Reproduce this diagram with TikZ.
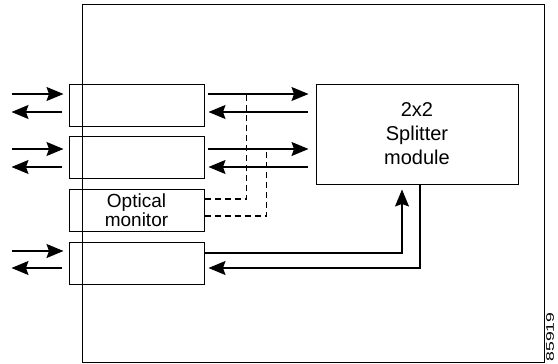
\documentclass[tikz,border=0pt]{standalone}
\usepackage{fontspec}
\setmainfont{Liberation Sans}
\usetikzlibrary{arrows.meta,calc}

\tikzset{
  unit/.style={draw, line width=1pt, minimum width=135, minimum height=42, inner sep=0pt},
  arr/.style={line width=1.2pt, -{Stealth[length=17pt,width=14pt,inset=2.5pt]}},
  tap/.style={line width=1.1pt, dash pattern=on 6pt off 4pt},
}

\begin{document}
\begin{tikzpicture}[x=1pt,y=1pt,yscale=-1,xscale=1]
\path[use as bounding box] (0,0) rectangle (558,364);

%Shelf
\draw[line width=1pt] (82,4) rectangle (544,362);

% Port units
\node[unit] (tx1) at (136.5,105) {};
\node[unit] (tx2) at (136.5,157.5) {};
\node[unit, font=\fontsize{19}{15}\selectfont, align=center] (mon) at (136.5,210.5) {Optical\\monitor};
\node[unit] (tx3) at (136.5,263) {};

% Splitter
\node[draw, line width=1pt, minimum width=202, minimum height=100, inner sep=0pt,
  font=\fontsize{20}{24}\selectfont, align=center] (split) at (417,134)
  {2x2\\Splitter\\module};

%Straight Lines, outside
\draw[arr] ($(tx1.west)+(-57,-11)$) -- ($(tx1.west)+(-5,-11)$);
\draw[arr] ($(tx1.west)+(-7,7)$) -- ($(tx1.west)+(-57,7)$);
\draw[arr] ($(tx2.west)+(-57,-8.5)$) -- ($(tx2.west)+(-5,-8.5)$);
\draw[arr] ($(tx2.west)+(-7,9.5)$) -- ($(tx2.west)+(-57,9.5)$);
\draw[arr] ($(tx3.west)+(-57,-12)$) -- ($(tx3.west)+(-5,-12)$);
\draw[arr] ($(tx3.west)+(-7,5)$) -- ($(tx3.west)+(-57,5)$);

%Straight Lines, to splitter
\draw[arr] ($(tx1.east)+(3,-11)$) -- ($(split.west |- tx1.east)+(-7,-11)$);
\draw[arr] ($(split.west |- tx1.east)+(-8,7)$) -- ($(tx1.east)+(4,7)$);
\draw[arr] ($(tx2.east)+(3,-8.5)$) -- ($(split.west |- tx2.east)+(-7,-8.5)$);
\draw[arr] ($(split.west |- tx2.east)+(-8,9.5)$) -- ($(tx2.east)+(4,9.5)$);
\draw[arr] ($(tx3.east)+(0,-10)$) -| ($(split.south)+(-15,5)$);
\draw[arr] ($(split.south)+(3,0)$) |- ($(tx3.east)+(4,5)$);

%Dashed Lines, monitor taps
\draw[tap] ($(mon.east)+(0,-11.5)$) -| ($(tx1.east)+(42,-11)$);
\draw[tap] ($(mon.east)+(0,5.5)$) -| ($(tx2.east)+(62,-8.5)$);

% Text Node
\node[rotate=90, font=\fontsize{11}{11}\selectfont, inner sep=0pt] (fignum) at (550,337) {\scalebox{1.6}[1]{85919}};

\end{tikzpicture}
\end{document}
